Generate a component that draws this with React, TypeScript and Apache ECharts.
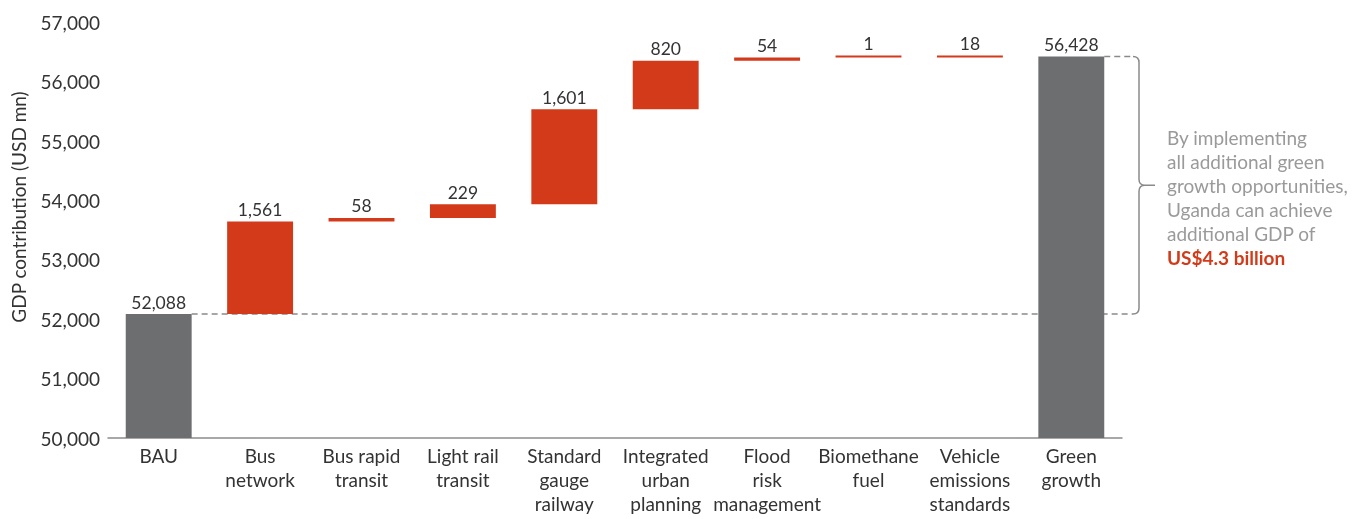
import React, { useEffect, useRef } from 'react';
import * as echarts from 'echarts';

const categories = [
  'BAU',
  'Bus\nnetwork',
  'Bus rapid\ntransit',
  'Light rail\ntransit',
  'Standard\ngauge\nrailway',
  'Integrated\nurban\nplanning',
  'Flood\nrisk\nmanagement',
  'Biomethane\nfuel',
  'Vehicle\nemissions\nstandards',
  'Green\ngrowth',
];
const values = [52088, 1561, 58, 229, 1601, 820, 54, 1, 18, 56428];
const isTotal = [true, false, false, false, false, false, false, false, false, true];
const yMin = 50000;
const yMax = 57000;
const yStep = 1000;
const axisTitle = 'GDP contribution (USD mn)';
const noteLines = ['By implementing', 'all additional green', 'growth opportunities,', 'Uganda can achieve', 'additional GDP of'];
const noteHighlight = 'US$4.3 billion';

const RED = '#D33A19';
const GRAY = '#6D6E70';
const FONT = 'Lato, "Open Sans", sans-serif';

export default function App() {
  const ref = useRef<HTMLDivElement>(null);
  useEffect(() => {
    const chart = echarts.init(ref.current!, null, { renderer: 'svg' });
    const bases: number[] = [];
    let run = 0;
    values.forEach((v, i) => {
      if (isTotal[i]) {
        bases.push(0);
        run = v;
      } else {
        bases.push(run);
        run += v;
      }
    });
    const fmt = (v: number) => Number(v).toLocaleString('en-US');
    chart.setOption({
      animation: false,
      textStyle: { fontFamily: FONT },
      grid: { left: 108, right: 243, top: 22.5, bottom: 81, containLabel: false },
      xAxis: {
        type: 'category',
        data: categories,
        axisLine: { show: true, lineStyle: { color: '#8c8c8c', width: 1.5 } },
        axisTick: { show: false },
        axisLabel: { interval: 0, color: '#333', fontSize: 19, lineHeight: 24, margin: 5, fontFamily: FONT },
      },
      yAxis: {
        type: 'value',
        min: yMin,
        max: yMax,
        interval: yStep,
        axisLine: { show: false },
        axisTick: { show: false },
        splitLine: { show: false },
        axisLabel: { color: '#333', fontSize: 19, margin: 8, fontFamily: FONT, formatter: (v: number) => fmt(v) },
      },
      series: [
        {
          name: 'base',
          type: 'bar',
          stack: 'w',
          barWidth: '65%',
          silent: true,
          itemStyle: { color: 'transparent' },
          data: bases,
        },
        {
          name: 'value',
          type: 'bar',
          stack: 'w',
          barWidth: '65%',
          barMinHeight: 2,
          data: values.map((v, i) => ({ value: v, itemStyle: { color: isTotal[i] ? GRAY : RED } })),
          label: {
            show: true,
            position: 'top',
            distance: 3,
            color: '#333',
            fontSize: 17.5,
            fontFamily: FONT,
            formatter: (p: any) => fmt(p.value),
          },
        },
      ],
    });

    const p0 = chart.convertToPixel({ gridIndex: 0 }, [0, values[0]]) as number[];
    const p1 = chart.convertToPixel({ gridIndex: 0 }, [1, values[0]]) as number[];
    const last = values.length - 1;
    const pL = chart.convertToPixel({ gridIndex: 0 }, [last, values[last]]) as number[];
    const band = p1[0] - p0[0];
    const half = band * 0.325;
    const gridRight = pL[0] + band / 2;
    const bx = gridRight + 11;
    const vx = bx + 6;
    const tip = vx + 16;
    const yTop = pL[1];
    const yBot = p0[1];
    const yMid = (yTop + yBot) / 2;
    const r = 6;
    const d =
      `M ${bx} ${yTop} Q ${vx} ${yTop} ${vx} ${yTop + r} L ${vx} ${yMid - r} Q ${vx} ${yMid} ${vx + r} ${yMid} L ${tip} ${yMid} ` +
      `M ${vx + r} ${yMid} Q ${vx} ${yMid} ${vx} ${yMid + r} L ${vx} ${yBot - r} Q ${vx} ${yBot} ${bx} ${yBot}`;
    echarts.graphic.registerShape('bracket', echarts.graphic.extendPath(d, {}) as any);

    const lineStyle = { stroke: '#8a8a8a', lineWidth: 1.5, lineDash: [6, 4] };
    chart.setOption({
      graphic: [
        {
          type: 'line',
          z: 0,
          shape: { x1: p0[0] + half, y1: yBot, x2: bx, y2: yBot },
          style: lineStyle,
        },
        {
          type: 'line',
          z: 0,
          shape: { x1: pL[0] + half, y1: yTop, x2: bx, y2: yTop },
          style: lineStyle,
        },
        {
          type: 'bracket',
          x: 0,
          y: 0,
          style: { stroke: '#8a8a8a', lineWidth: 1.5, fill: 'none' },
        },
        {
          type: 'text',
          x: tip + 12,
          y: yMid - 60,
          style: {
            text: noteLines.join('\n') + '\n{hl|' + noteHighlight + '}',
            fill: '#9a9a9a',
            fontSize: 19,
            fontFamily: FONT,
            lineHeight: 24,
            align: 'left',
            verticalAlign: 'top',
            rich: {
              hl: { fill: RED, fontWeight: 'bold', fontSize: 19, fontFamily: FONT, lineHeight: 24 },
            },
          },
        },
        {
          type: 'text',
          x: 18,
          y: 207,
          rotation: Math.PI / 2,
          style: {
            text: axisTitle,
            fill: '#333',
            fontSize: 19,
            fontFamily: FONT,
            align: 'center',
            verticalAlign: 'middle',
          },
        },
      ],
    });

    return () => {
      chart.dispose();
    };
  }, []);
  return <div ref={ref} style={{ position: 'fixed', left: 0, top: 0, width: 1365, height: 519 }} />;
}
